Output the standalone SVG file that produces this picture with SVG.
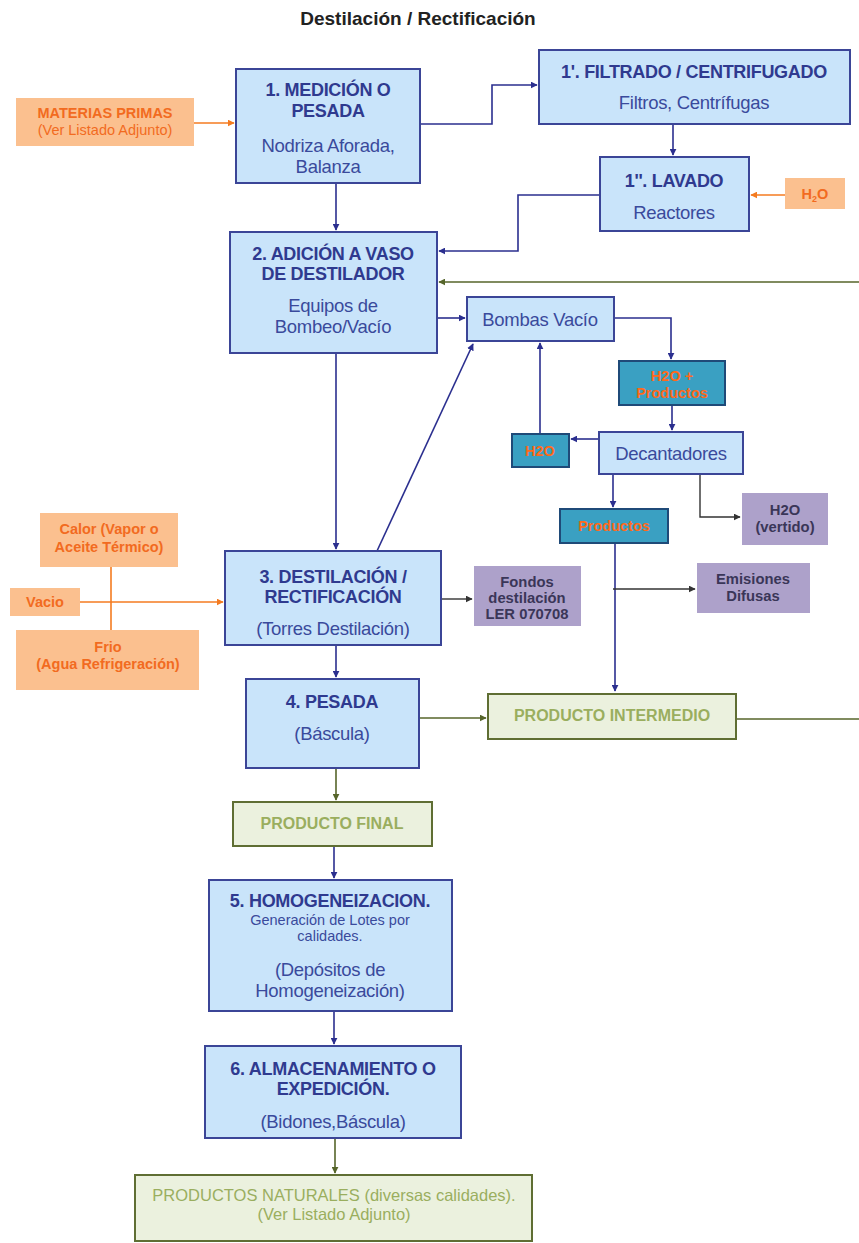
<svg xmlns="http://www.w3.org/2000/svg" width="859" height="1243" viewBox="0 0 859 1243">
<defs>
<marker id="ab" viewBox="0 0 10 10" refX="9" refY="5" markerWidth="7" markerHeight="7" orient="auto" markerUnits="userSpaceOnUse"><path d="M0,0 L10,5 L0,10 z" fill="#2b2f8f"/></marker>
<marker id="ag" viewBox="0 0 10 10" refX="9" refY="5" markerWidth="7" markerHeight="7" orient="auto" markerUnits="userSpaceOnUse"><path d="M0,0 L10,5 L0,10 z" fill="#56652a"/></marker>
<marker id="ao" viewBox="0 0 10 10" refX="9" refY="5" markerWidth="7" markerHeight="7" orient="auto" markerUnits="userSpaceOnUse"><path d="M0,0 L10,5 L0,10 z" fill="#f47b20"/></marker>
<marker id="ad" viewBox="0 0 10 10" refX="9" refY="5" markerWidth="7" markerHeight="7" orient="auto" markerUnits="userSpaceOnUse"><path d="M0,0 L10,5 L0,10 z" fill="#333333"/></marker>
</defs>
<style>
text{font-family:"Liberation Sans",Arial,sans-serif;text-anchor:middle}
.title{font-size:19px;font-weight:bold;fill:#222}
.step{fill:#c9e4fa;stroke:#3b4597;stroke-width:2}
.h{font-size:18px;font-weight:bold;fill:#2f3a8f;letter-spacing:-0.3px}
.s{font-size:18.5px;fill:#3a4a9c;letter-spacing:-0.3px}
.xs{font-size:14.5px;fill:#3a4a9c}
.org{fill:#fbc08f}
.ot{font-size:14.5px;font-weight:bold;fill:#f26b1f}
.otr{font-size:14.5px;fill:#f26b1f}
.teal{fill:#3aa0c2;stroke:#1f4a78;stroke-width:2}
.tt{font-size:14.5px;font-weight:bold;fill:#ff6a1a}
.pur{fill:#ada1ca}
.pt{font-size:14.8px;font-weight:bold;fill:#3a3658}
.grn{fill:#ebf1de;stroke:#5f6e33;stroke-width:2}
.gt{font-size:16px;font-weight:bold;fill:#9aae5e}
.gtr{font-size:16.5px;fill:#9aae5e}
.cb{fill:none;stroke:#2b2f8f;stroke-width:1.6}
.cg{fill:none;stroke:#56652a;stroke-width:1.6}
.co{fill:none;stroke:#f47b20;stroke-width:1.6}
.cd{fill:none;stroke:#333333;stroke-width:1.4}
</style>
<text class="title" x="418" y="25">Destilación / Rectificación</text>

<g id="connectors">
<path class="co" d="M194,123 H234" marker-end="url(#ao)"/>
<path class="cb" d="M420,124 H492 V85 H537" marker-end="url(#ab)"/>
<path class="cb" d="M673,124 V155" marker-end="url(#ab)"/>
<path class="co" d="M785,195 H751" marker-end="url(#ao)"/>
<path class="cb" d="M600,195 H518 V251 H439" marker-end="url(#ab)"/>
<path class="cb" d="M336,183 V230" marker-end="url(#ab)"/>
<path class="cg" d="M859,282 H439" marker-end="url(#ag)"/>
<path class="cb" d="M437,318 H465" marker-end="url(#ab)"/>
<path class="cb" d="M614,318 H671 V359" marker-end="url(#ab)"/>
<path class="cb" d="M672,405 V430" marker-end="url(#ab)"/>
<path class="cb" d="M599,439 H571" marker-end="url(#ab)"/>
<path class="cb" d="M540,434 V343" marker-end="url(#ab)"/>
<path class="cb" d="M613,474 V507" marker-end="url(#ab)"/>
<path class="cd" d="M700,474 V517 H740" marker-end="url(#ad)"/>
<path class="cb" d="M615,543 V691" marker-end="url(#ab)"/>
<path class="cd" d="M613,589 H695" marker-end="url(#ad)"/>
<path class="cb" d="M377,551 L473,344" marker-end="url(#ab)"/>
<path class="cb" d="M336,353 V549" marker-end="url(#ab)"/>
<path class="cd" d="M441,599 H472" marker-end="url(#ad)"/>
<path class="co" d="M111,567 V630"/>
<path class="co" d="M80,602 H223" marker-end="url(#ao)"/>
<path class="cb" d="M336,645 V677" marker-end="url(#ab)"/>
<path class="cg" d="M419,718 H486" marker-end="url(#ag)"/>
<path class="cg" d="M736,719 H859"/>
<path class="cg" d="M336,768 V800" marker-end="url(#ag)"/>
<path class="cb" d="M334,846 V878" marker-end="url(#ab)"/>
<path class="cb" d="M334,1011 V1044" marker-end="url(#ab)"/>
<path class="cg" d="M335,1138 V1173" marker-end="url(#ag)"/>
</g>

<g id="materias">
<rect class="org" x="16" y="98" width="178" height="48"/>
<text class="ot" x="105" y="118">MATERIAS PRIMAS</text>
<text class="otr" x="105" y="135">(Ver Listado Adjunto)</text>
</g>

<g id="n1">
<rect class="step" x="236" y="69" width="184" height="114"/>
<text class="h" x="328" y="96">1. MEDICIÓN O</text>
<text class="h" x="328" y="117">PESADA</text>
<text class="s" x="328" y="152">Nodriza Aforada,</text>
<text class="s" x="328" y="173">Balanza</text>
</g>

<g id="n1p">
<rect class="step" x="539" y="50" width="311" height="74"/>
<text class="h" x="694" y="78">1'. FILTRADO / CENTRIFUGADO</text>
<text class="s" x="694" y="109">Filtros, Centrífugas</text>
</g>

<g id="n1pp">
<rect class="step" x="600" y="157" width="149" height="74"/>
<text class="h" x="674" y="187">1''. LAVADO</text>
<text class="s" x="674" y="219">Reactores</text>
</g>

<g id="h2o-in">
<rect class="org" x="785" y="178" width="60" height="31"/>
<text class="ot" x="815" y="199">H<tspan font-size="9" dy="3">2</tspan><tspan dy="-3">O</tspan></text>
</g>

<g id="n2">
<rect class="step" x="230" y="232" width="207" height="121"/>
<text class="h" x="333" y="260">2. ADICIÓN A VASO</text>
<text class="h" x="333" y="280">DE DESTILADOR</text>
<text class="s" x="333" y="312">Equipos de</text>
<text class="s" x="333" y="333">Bombeo/Vacío</text>
</g>

<g id="bombas">
<rect class="step" x="467" y="297" width="147" height="44"/>
<text class="s" x="540" y="326">Bombas Vacío</text>
</g>

<g id="h2oprod">
<rect class="teal" x="619" y="361" width="106" height="44"/>
<text class="tt" x="672" y="381">H2O +</text>
<text class="tt" x="672" y="398">Productos</text>
</g>

<g id="decant">
<rect class="step" x="599" y="432" width="144" height="42"/>
<text class="s" x="671" y="460">Decantadores</text>
</g>

<g id="h2o-small">
<rect class="teal" x="512" y="434" width="57" height="33"/>
<text class="tt" x="540" y="456">H2O</text>
</g>

<g id="productos">
<rect class="teal" x="560" y="509" width="108" height="34"/>
<text class="tt" x="614" y="531">Productos</text>
</g>

<g id="vertido">
<rect class="pur" x="742" y="493" width="86" height="52"/>
<text class="pt" x="785" y="515">H2O</text>
<text class="pt" x="785" y="532">(vertido)</text>
</g>

<g id="emisiones">
<rect class="pur" x="697" y="563" width="113" height="50"/>
<text class="pt" x="753" y="584">Emisiones</text>
<text class="pt" x="753" y="601">Difusas</text>
</g>

<g id="fondos">
<rect class="pur" x="474" y="566" width="107" height="60"/>
<text class="pt" x="527" y="587">Fondos</text>
<text class="pt" x="527" y="603">destilación</text>
<text class="pt" x="527" y="619">LER 070708</text>
</g>

<g id="calor">
<rect class="org" x="40" y="513" width="138" height="54"/>
<text class="ot" x="109" y="534">Calor (Vapor o</text>
<text class="ot" x="109" y="552">Aceite Térmico)</text>
</g>
<g id="vacio">
<rect class="org" x="10" y="588" width="70" height="28"/>
<text class="ot" x="45" y="607">Vacio</text>
</g>
<g id="frio">
<rect class="org" x="16" y="630" width="183" height="60"/>
<text class="ot" x="108" y="652">Frio</text>
<text class="ot" x="108" y="669">(Agua Refrigeración)</text>
</g>

<g id="n3">
<rect class="step" x="225" y="551" width="216" height="94"/>
<text class="h" x="333" y="583">3. DESTILACIÓN /</text>
<text class="h" x="333" y="603">RECTIFICACIÓN</text>
<text class="s" x="333" y="635">(Torres Destilación)</text>
</g>

<g id="n4">
<rect class="step" x="246" y="679" width="173" height="89"/>
<text class="h" x="332" y="708">4. PESADA</text>
<text class="s" x="332" y="740">(Báscula)</text>
</g>

<g id="intermedio">
<rect class="grn" x="488" y="694" width="248" height="45"/>
<text class="gt" x="612" y="721">PRODUCTO INTERMEDIO</text>
</g>

<g id="final">
<rect class="grn" x="233" y="802" width="199" height="44"/>
<text class="gt" x="332" y="829">PRODUCTO FINAL</text>
</g>

<g id="n5">
<rect class="step" x="209" y="880" width="243" height="131"/>
<text class="h" x="330" y="907">5. HOMOGENEIZACION.</text>
<text class="xs" x="330" y="925">Generación de Lotes por</text>
<text class="xs" x="330" y="941">calidades.</text>
<text class="s" x="330" y="976">(Depósitos de</text>
<text class="s" x="330" y="997">Homogeneización)</text>
</g>

<g id="n6">
<rect class="step" x="205" y="1046" width="256" height="92"/>
<text class="h" x="333" y="1075">6. ALMACENAMIENTO O</text>
<text class="h" x="333" y="1095">EXPEDICIÓN.</text>
<text class="s" x="333" y="1128">(Bidones,Báscula)</text>
</g>

<g id="naturales">
<rect class="grn" x="135" y="1175" width="397" height="66"/>
<text class="gtr" x="334" y="1201">PRODUCTOS NATURALES (diversas calidades).</text>
<text class="gtr" x="334" y="1220">(Ver Listado Adjunto)</text>
</g>
</svg>
